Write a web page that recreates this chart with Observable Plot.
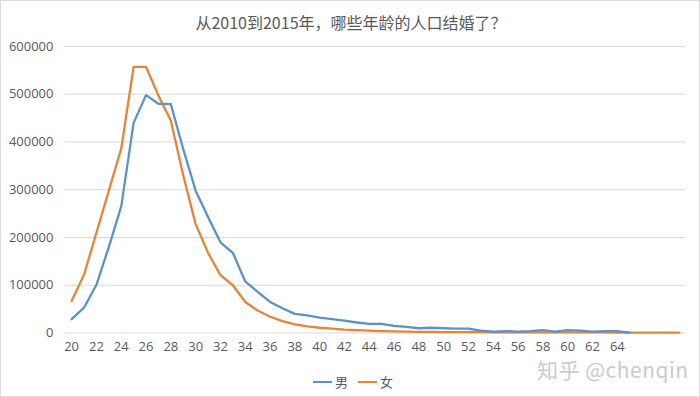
<!DOCTYPE html>
<html>
<head>
<meta charset="utf-8">
<script src="https://cdn.jsdelivr.net/npm/d3@7"></script>
<script src="https://cdn.jsdelivr.net/npm/@observablehq/plot@0.6"></script>
<style>
  html, body { margin: 0; padding: 0; background: #fff; }
  #wrap { position: relative; width: 700px; height: 397px; box-sizing: border-box; border: 1px solid #dcdcdc; overflow: hidden; font-family: "Noto Sans CJK SC", "Open Sans", sans-serif; }
  #chart { position: absolute; left: -1px; top: -1px; }
  #title { position: absolute; left: 0; width: 700px; top: 9px; text-align: center; font-size: 16px; color: #595959; }
  #legend { position: absolute; top: 371px; left: 312px; font-size: 13px; color: #595959; display: flex; align-items: center; }
  #legend .sw { display: inline-block; width: 19px; height: 0; border-top: 2.5px solid; margin-right: 3px; }
  #legend .item { display: flex; align-items: center; margin-right: 10px; }
  #wm { position: absolute; left: 536px; top: 359px; font-size: 21px; line-height: 18px; color: #cbcbcb; font-family: "Noto Sans CJK SC", "Open Sans", sans-serif; letter-spacing: 0.5px; }
</style>
</head>
<body>
<div id="wrap">
  <div id="chart"></div>
  <div id="title">从2010到2015年，哪些年龄的人口结婚了？</div>
  <div id="legend"></div>
  <div id="wm">知乎 @chenqin</div>
</div>
<script>
const seriesNames = ["男", "女"];
const seriesColors = ["#5b93c6", "#e6843a"];
const maleAges = d3.range(20, 66);
const maleValues = [
  29000, 53000, 101000, 180000, 265000, 440000, 498000, 480000, 479000, 385000,
  298000, 243000, 190000, 168000, 108000, 86000, 65000, 52000, 40000, 37000,
  32000, 29000, 26000, 22000, 19000, 19000, 15000, 13000, 10000, 11000,
  10000, 9000, 9000, 5000, 3000, 4000, 3000, 4000, 6000, 3000,
  6000, 5000, 3000, 4000, 4000, 1000
];
const femaleAges = d3.range(20, 70);
const femaleValues = [
  67000, 122000, 210000, 298000, 386000, 557000, 557000, 497000, 445000, 330000,
  228000, 168000, 121000, 100000, 65000, 47000, 34000, 25000, 18000, 14000,
  11000, 9000, 7000, 6000, 5000, 4000, 3500, 3000, 2500, 2500,
  2000, 2000, 2000, 2000, 1500, 1500, 1500, 1500, 1500, 1500,
  1500, 1500, 1500, 1200, 1000, 1000, 800, 800, 800, 800
];
const yTicks = [0, 100000, 200000, 300000, 400000, 500000, 600000];
const xTicks = d3.range(20, 65, 2);

const data = [
  ...maleAges.map((a, i) => ({age: a, value: maleValues[i], sex: seriesNames[0]})),
  ...femaleAges.map((a, i) => ({age: a, value: femaleValues[i], sex: seriesNames[1]}))
];

const chart = Plot.plot({
  width: 700,
  height: 397,
  marginTop: 46,
  marginBottom: 64,
  marginLeft: 65,
  marginRight: 14,
  style: {background: "transparent", fontFamily: "'Open Sans', 'Noto Sans CJK SC', sans-serif", fontSize: "13px", color: "#595959"},
  x: {domain: [19.5, 69.5], ticks: xTicks, tickSize: 0, tickPadding: 9, tickFormat: d => String(d), label: null},
  y: {domain: [0, 600000], ticks: yTicks, tickSize: 0, tickPadding: 12, tickFormat: d => String(d), label: null},
  color: {domain: seriesNames, range: seriesColors},
  marks: [
    Plot.ruleY(yTicks, {stroke: "#d9d9d9", strokeWidth: 1}),
    Plot.axisX({ticks: xTicks, tickSize: 0, tickPadding: 9, tickFormat: d => String(d), label: null, fill: "#595959"}),
    Plot.axisY({ticks: yTicks, tickSize: 0, tickPadding: 12, tickFormat: d => String(d), label: null, fill: "#595959"}),
    Plot.line(data.filter(d => d.sex === seriesNames[1]), {x: "age", y: "value", stroke: "sex", strokeWidth: 2.3}),
    Plot.line(data.filter(d => d.sex === seriesNames[0]), {x: "age", y: "value", stroke: "sex", strokeWidth: 2.3})
  ]
});
document.getElementById("chart").appendChild(chart);

const legend = document.getElementById("legend");
seriesNames.forEach((n, i) => {
  const it = document.createElement("span");
  it.className = "item";
  const sw = document.createElement("span");
  sw.className = "sw";
  sw.style.borderTopColor = seriesColors[i];
  it.appendChild(sw);
  it.appendChild(document.createTextNode(n));
  legend.appendChild(it);
});
</script>
</body>
</html>
